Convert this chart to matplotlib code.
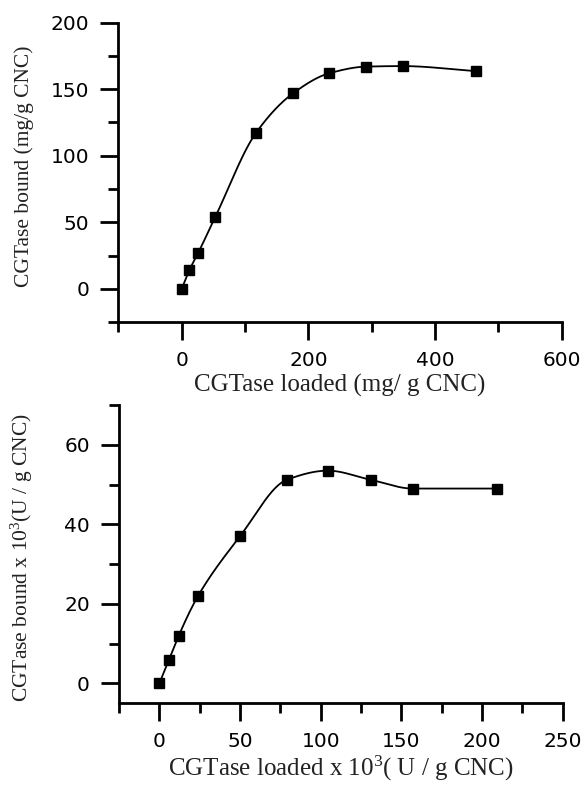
import numpy as np
import matplotlib
matplotlib.use("Agg")
import matplotlib.pyplot as plt
from matplotlib.ticker import MultipleLocator

# data
mass_loaded = [0, 12, 26, 53, 117, 176, 233, 291, 349, 464]
mass_bound = [0, 14, 27, 54, 117, 147, 162, 167, 167.4, 163.6]

act_loaded = [0, 6, 12, 24, 50, 79, 104.5, 131, 157, 209]
act_bound = [0, 6, 12, 22, 37, 51.2, 53.5, 51.2, 49, 49]

plt.rcParams['mathtext.fontset'] = 'custom'
plt.rcParams['mathtext.rm'] = 'Liberation Serif'
plt.rcParams['mathtext.it'] = 'Liberation Serif'


def pchip(x, y, xs):
    # monotone piecewise cubic (Fritsch-Carlson), numpy only
    x = np.asarray(x, float)
    y = np.asarray(y, float)
    h = np.diff(x)
    d = np.diff(y) / h
    n = len(x)
    m = np.zeros(n)
    for k in range(1, n - 1):
        if d[k - 1] * d[k] > 0:
            w1 = 2 * h[k] + h[k - 1]
            w2 = h[k] + 2 * h[k - 1]
            m[k] = (w1 + w2) / (w1 / d[k - 1] + w2 / d[k])
    m[0] = d[0]
    m[-1] = d[-1]
    idx = np.clip(np.searchsorted(x, xs) - 1, 0, n - 2)
    t = (xs - x[idx]) / h[idx]
    h00 = 2 * t**3 - 3 * t**2 + 1
    h10 = t**3 - 2 * t**2 + t
    h01 = -2 * t**3 + 3 * t**2
    h11 = t**3 - t**2
    return h00 * y[idx] + h10 * h[idx] * m[idx] + h01 * y[idx + 1] + h11 * h[idx] * m[idx + 1]


def style(ax):
    for s in ['top', 'right']:
        ax.spines[s].set_visible(False)
    for s in ['left', 'bottom']:
        ax.spines[s].set_linewidth(2.0)
    ax.tick_params(which='major', direction='out', length=13, width=2.0, labelsize=14.5, pad=8)
    ax.tick_params(which='minor', direction='out', length=7, width=2.0)
    for lab in ax.get_xticklabels() + ax.get_yticklabels():
        lab.set_family('DejaVu Sans')


fig = plt.figure(figsize=(5.87, 7.86), dpi=100)
lab_kw = dict(family='Liberation Serif', color='#222222')

# top panel
ax1 = fig.add_axes([0.2017, 0.5903, 0.7552, 0.3808])
xs = np.linspace(mass_loaded[0], mass_loaded[-1], 400)
ax1.plot(xs, pchip(mass_loaded, mass_bound, xs), color='black', lw=1.3)
ax1.plot(mass_loaded, mass_bound, 's', color='black', ms=7.2)
ax1.set_xlim(-100, 600)
ax1.set_ylim(-25, 200)
ax1.xaxis.set_minor_locator(MultipleLocator(100))
ax1.yaxis.set_minor_locator(MultipleLocator(25))
ax1.set_xticks([0, 200, 400, 600])
ax1.set_yticks([0, 50, 100, 150, 200])
style(ax1)
ax1.set_xlabel('CGTase loaded (mg/ g CNC)', fontsize=18, labelpad=3, **lab_kw)
ax1.set_ylabel('CGTase bound (mg/g CNC)', fontsize=15.5, **lab_kw)
ax1.yaxis.set_label_coords(-0.19, 0.52)

# bottom panel
ax2 = fig.add_axes([0.2027, 0.1052, 0.7559, 0.3795])
xs = np.linspace(act_loaded[0], act_loaded[-1], 400)
ax2.plot(xs, pchip(act_loaded, act_bound, xs), color='black', lw=1.3)
ax2.plot(act_loaded, act_bound, 's', color='black', ms=7.2)
ax2.set_xlim(-25, 250)
ax2.set_ylim(-5, 70)
ax2.xaxis.set_minor_locator(MultipleLocator(25))
ax2.yaxis.set_minor_locator(MultipleLocator(10))
ax2.set_xticks([0, 50, 100, 150, 200, 250])
ax2.set_yticks([0, 20, 40, 60])
style(ax2)
ax2.set_xlabel('CGTase loaded x 10$^{3}$( U / g CNC)', fontsize=18, labelpad=2, **lab_kw)
ax2.set_ylabel('CGTase bound x 10$^{3}$(U / g CNC)', fontsize=15.5, **lab_kw)
ax2.yaxis.set_label_coords(-0.19, 0.49)

plt.savefig('out.png', dpi=100)
